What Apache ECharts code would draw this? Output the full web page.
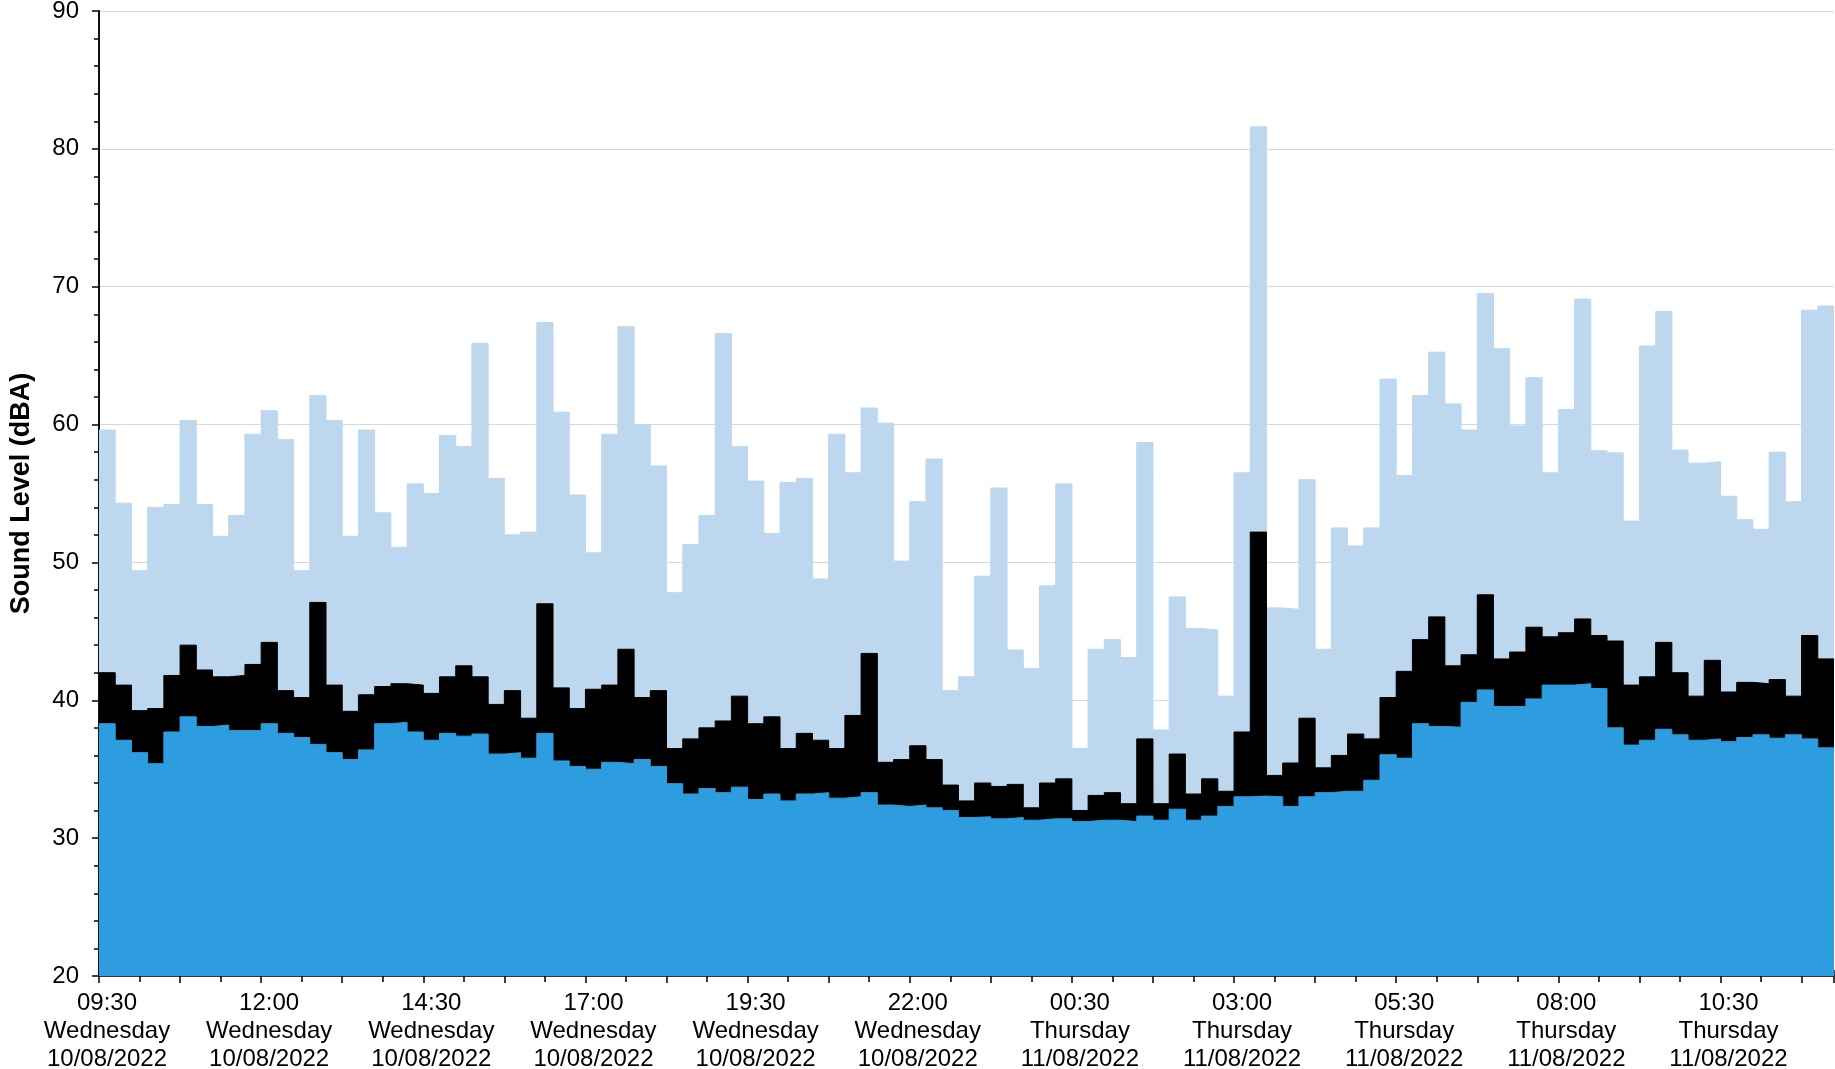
<!DOCTYPE html>
<html>
<head>
<meta charset="utf-8">
<title>Sound Level</title>
<script src="https://cdn.jsdelivr.net/npm/echarts@6/dist/echarts.min.js"></script>
<style>
html, body { margin: 0; padding: 0; background: #fff; }
#chart { width: 1835px; height: 1069px; }
</style>
</head>
<body>
<div id="chart"></div>
<script>
// tick labels, one every 10 intervals (2.5 h)
const tickTimes = ['09:30', '12:00', '14:30', '17:00', '19:30', '22:00', '00:30', '03:00', '05:30', '08:00', '10:30'];
const tickDays = ['Wednesday', 'Wednesday', 'Wednesday', 'Wednesday', 'Wednesday', 'Wednesday',
    'Thursday', 'Thursday', 'Thursday', 'Thursday', 'Thursday'];
const tickDates = ['10/08/2022', '10/08/2022', '10/08/2022', '10/08/2022', '10/08/2022', '10/08/2022',
    '11/08/2022', '11/08/2022', '11/08/2022', '11/08/2022', '11/08/2022'];

// 15 minute periods from 09:30 Wed
const lmax = [
    59.6, 54.3, 49.4, 54.0, 54.2, 60.3, 54.2, 51.9, 53.4, 59.3, 61.0, 58.9, 49.4, 62.1, 60.3, 51.9, 59.6,
    53.6, 51.1, 55.7, 55.0, 59.2, 58.4, 65.9, 56.1, 52.0, 52.2, 67.4, 60.9, 54.9, 50.7, 59.3, 67.1, 60.0, 57.0,
    47.8, 51.3, 53.4, 66.6, 58.4, 55.9, 52.1, 55.8, 56.1, 48.8, 59.3, 56.5, 61.2, 60.1, 50.1, 54.4, 57.5, 40.7,
    41.7, 49.0, 55.4, 43.65, 42.3, 48.3, 55.7, 36.5, 43.7, 44.4, 43.1, 58.7, 37.85, 47.5, 45.2, 45.1, 40.3, 56.5,
    81.6, 46.7, 46.6, 56.0, 43.7, 52.5, 51.2, 52.5, 63.3, 56.3, 62.1, 65.25, 61.5, 59.6, 69.5, 65.5, 59.9, 63.4,
    56.5, 61.1, 69.1, 58.1, 57.95, 53.0, 65.7, 68.2, 58.15, 57.2, 57.3, 54.8, 53.1, 52.4, 58.0, 54.4, 68.3, 68.6
];
const leq = [
    42.0, 41.1, 39.25, 39.4, 41.8, 44.0, 42.2, 41.7, 41.8, 42.6, 44.2, 40.7, 40.2, 47.1, 41.1, 39.2, 40.4,
    41.0, 41.2, 41.1, 40.5, 41.7, 42.5, 41.7, 39.7, 40.7, 38.7, 47.0, 40.9, 39.4, 40.8, 41.1, 43.7, 40.2, 40.7,
    36.5, 37.2, 38.0, 38.5, 40.3, 38.3, 38.8, 36.5, 37.6, 37.1, 36.5, 38.9, 43.4, 35.5, 35.7, 36.7, 35.7, 33.85,
    32.7, 34.0, 33.75, 33.9, 32.2, 34.0, 34.3, 32.0, 33.1, 33.3, 32.5, 37.2, 32.5, 36.1, 33.2, 34.3, 33.4, 37.7,
    52.2, 34.55, 35.45, 38.7, 35.1, 36.0, 37.55, 37.2, 40.2, 42.1, 44.4, 46.05, 42.5, 43.3, 47.65, 43.0, 43.5, 45.3,
    44.6, 44.9, 45.9, 44.7, 44.3, 41.1, 41.7, 44.2, 42.0, 40.3, 42.9, 40.6, 41.3, 41.2, 41.5, 40.3, 44.7, 43.0
];
const l90 = [
    38.3, 37.1, 36.2, 35.4, 37.7, 38.8, 38.1, 38.2, 37.8, 37.8, 38.3, 37.6, 37.3, 36.8, 36.2, 35.7, 36.4,
    38.3, 38.4, 37.7, 37.1, 37.6, 37.4, 37.55, 36.1, 36.2, 35.8, 37.6, 35.6, 35.2, 35.0, 35.5, 35.4, 35.7, 35.2,
    33.95, 33.2, 33.6, 33.3, 33.7, 32.8, 33.2, 32.7, 33.2, 33.3, 32.9, 33.0, 33.3, 32.4, 32.3, 32.4, 32.2, 32.0,
    31.5, 31.55, 31.4, 31.5, 31.3, 31.4, 31.4, 31.2, 31.3, 31.3, 31.2, 31.6, 31.3, 32.1, 31.3, 31.6, 32.3, 33.0,
    33.05, 33.0, 32.3, 33.0, 33.3, 33.4, 33.4, 34.2, 36.05, 35.8, 38.3, 38.1, 38.05, 39.85, 40.75, 39.55, 39.55, 40.1,
    41.1, 41.1, 41.2, 40.85, 38.0, 36.75, 37.1, 37.9, 37.5, 37.1, 37.2, 37.0, 37.3, 37.5, 37.25, 37.5, 37.2, 36.55
];

// each value holds for its whole period: add closing point at the right edge
function steps(arr) {
    let pts = arr.map((v, i) => [i, v]);
    pts.push([arr.length, arr[arr.length - 1]]);
    return pts;
}

function initChart() {
    let myChart = echarts.init(document.getElementById('chart'));
    let fontFamily = '"Liberation Sans", Arial, sans-serif';
    let axisStroke = { color: '#000', width: 1.5 };

    let stepSeries = function (name, data, color) {
        return {
            name: name,
            type: 'line',
            step: 'end',
            data: steps(data),
            showSymbol: false,
            symbol: 'none',
            lineStyle: { color: color, width: 1 },
            areaStyle: { color: color, opacity: 1, origin: 'start' },
            silent: true
        };
    };

    let option = {
        animation: false,
        backgroundColor: '#fff',
        grid: { left: 99, right: 1, top: 11, bottom: 93, outerBoundsMode: 'none' },
        xAxis: [{
            type: 'value',
            min: 0,
            max: lmax.length,
            interval: 5,
            axisLine: { show: true, lineStyle: axisStroke },
            axisTick: { show: true, length: 7, lineStyle: axisStroke },
            minorTick: { show: true, splitNumber: 2, length: 6, lineStyle: axisStroke },
            splitLine: { show: false },
            axisLabel: {
                color: '#000',
                fontFamily: fontFamily,
                fontSize: 24,
                lineHeight: 28,
                margin: 13,
                rich: {
                    t: { fontFamily: fontFamily, fontSize: 24, lineHeight: 28, color: '#000', padding: [0, 0, 0, 16] }
                },
                formatter: function (v) {
                    if (v % 10 !== 0) return '';
                    let k = v / 10;
                    return '{t|' + tickTimes[k] + '}\n{t|' + tickDays[k] + '}\n{t|' + tickDates[k] + '}';
                }
            }
        }, {
            // upper half of the major ticks, crossing the axis
            type: 'value',
            position: 'bottom',
            min: 0,
            max: lmax.length,
            interval: 5,
            axisLine: { show: false },
            axisTick: { show: true, inside: true, length: 6, lineStyle: axisStroke },
            axisLabel: { show: false },
            splitLine: { show: false }
        }],
        yAxis: [{
            type: 'value',
            min: 20,
            max: 90,
            interval: 10,
            name: 'Sound Level (dBA)',
            nameLocation: 'middle',
            nameRotate: 90,
            nameGap: 64,
            nameTextStyle: { color: '#000', fontFamily: fontFamily, fontSize: 27, fontWeight: 'bold' },
            axisLine: { show: true, lineStyle: axisStroke },
            axisTick: { show: true, length: 7, lineStyle: axisStroke },
            minorTick: { show: true, splitNumber: 5, length: 5, lineStyle: axisStroke },
            axisLabel: { color: '#000', fontFamily: fontFamily, fontSize: 24, margin: 20 },
            splitLine: { show: true, lineStyle: { color: '#d9d9d9', width: 1.2 } }
        }, {
            type: 'value',
            position: 'right',
            min: 20,
            max: 90,
            axisLine: { show: true, lineStyle: axisStroke },
            axisTick: { show: false },
            axisLabel: { show: false },
            splitLine: { show: false }
        }],
        series: [
            stepSeries('LAmax', lmax, '#bdd7ee'),
            stepSeries('LAeq', leq, '#000000'),
            stepSeries('LA90', l90, '#2e9ddf')
        ]
    };

    myChart.setOption(option);
    return myChart;
}

initChart();
</script>
</body>
</html>
